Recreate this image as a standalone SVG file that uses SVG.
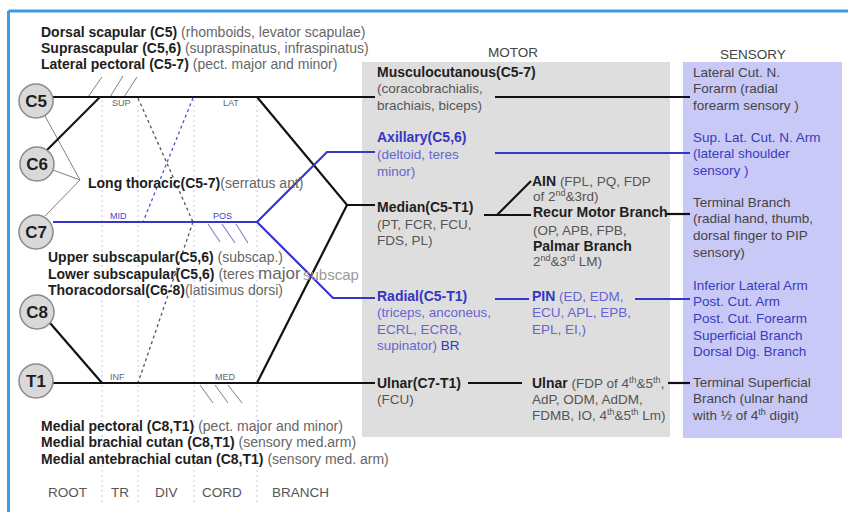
<svg xmlns="http://www.w3.org/2000/svg" width="848" height="512" viewBox="0 0 848 512">
<style>
text{font-family:"Liberation Sans",Arial,sans-serif;font-size:13.5px;fill:#555}
.L{font-size:14px}
.b{font-weight:bold;fill:#1e1e1e;font-size:14px}
.g{fill:#666}
.bb{font-weight:bold;fill:#3535c4;font-size:14px}
.lb{fill:#6565d2}
.sb{fill:#3a3ac0}
.sk{fill:#444}
.hd{fill:#444}
.sm{font-size:9px;fill:#666}
.smb{font-size:9px;fill:#4545c8}
.sup{font-size:9px;baseline-shift:super}
.root circle{fill:#d9d9d9;stroke:#8a8a8a;stroke-width:1.5}
.root text{font-weight:bold;font-size:17px;fill:#1e1e1e;text-anchor:middle}
.bk{stroke:#111;stroke-width:2.2;fill:none}
.bl{stroke:#3636c8;stroke-width:2.2;fill:none}
.thin{stroke:#808080;stroke-width:1;fill:none}
.tb{stroke:#8080d0;stroke-width:1.1;fill:none}
.dot{stroke:#c6c6ee;stroke-width:1;stroke-dasharray:2 3;fill:none}
.dg{stroke:#555;stroke-width:1.3;stroke-dasharray:3 3;fill:none}
.db{stroke:#5050d0;stroke-width:1.3;stroke-dasharray:3 3;fill:none}
</style>
<rect x="0" y="0" width="848" height="512" fill="#fff"/>
<g id="frame" fill="none" stroke="#3d9be0" stroke-width="3">
<line x1="8.5" y1="11" x2="848" y2="11"/>
<line x1="8.5" y1="11" x2="8.5" y2="512"/>
</g>
<g id="panels">
<rect id="motor-panel" x="362" y="62" width="308" height="375" fill="#dedede"/>
<rect id="sensory-panel" x="683" y="62" width="159" height="376" fill="#c9c9f7"/>
<text class="hd" x="488" y="57">MOTOR</text>
<text class="hd" x="720" y="59">SENSORY</text>
</g>
<g id="columns">
<line class="dot" x1="102" y1="100" x2="102" y2="505"/>
<line class="dot" x1="138" y1="100" x2="138" y2="505"/>
<line class="dot" x1="194" y1="100" x2="194" y2="505"/>
<line class="dot" x1="257" y1="100" x2="257" y2="505"/>
<text x="48" y="497">ROOT</text>
<text x="111" y="497">TR</text>
<text x="155" y="497">DIV</text>
<text x="202" y="497">CORD</text>
<text x="272" y="497">BRANCH</text>
</g>
<g id="connectors">
<line class="thin" x1="88" y1="97" x2="102" y2="77"/>
<line class="thin" x1="110" y1="97" x2="123" y2="76"/>
<line class="thin" x1="124" y1="97" x2="137" y2="77"/>
<line class="thin" x1="45" y1="116" x2="80" y2="180"/>
<line class="thin" x1="53" y1="170" x2="80" y2="180"/>
<line class="thin" x1="45" y1="216" x2="80" y2="180"/>
<line class="tb" x1="208" y1="224" x2="220" y2="242"/>
<line class="tb" x1="222" y1="224" x2="235" y2="243"/>
<line class="tb" x1="236" y1="224" x2="248" y2="243"/>
<line class="thin" x1="200" y1="385" x2="213" y2="403"/>
<line class="thin" x1="215" y1="385" x2="228" y2="403"/>
<line class="thin" x1="228" y1="385" x2="242" y2="403"/>
<line class="dg" x1="138" y1="98" x2="193" y2="222"/>
<line class="dg" x1="193" y1="222" x2="138" y2="383"/>
<line class="db" x1="193" y1="98" x2="143" y2="222"/>
<line class="bk" x1="52" y1="97" x2="375" y2="97"/>
<line class="bk" x1="47" y1="150" x2="100" y2="97"/>
<line class="bl" x1="53" y1="222" x2="257" y2="222"/>
<line class="bk" x1="50" y1="323" x2="102" y2="383"/>
<line class="bk" x1="53" y1="383" x2="375" y2="383"/>
<polyline class="bk" points="257,97 347,205 375,205"/>
<line class="bk" x1="257" y1="383" x2="347" y2="205"/>
<polyline class="bl" points="257,222 327,152 375,152"/>
<polyline class="bl" points="257,222 333,298 375,298"/>
<line class="bk" x1="495" y1="97" x2="690" y2="97"/>
<line class="bl" x1="495" y1="153" x2="690" y2="153"/>
<line class="bk" x1="484" y1="215" x2="531" y2="215"/>
<line class="bk" x1="497" y1="215" x2="531" y2="181"/>
<line class="bk" x1="666" y1="214" x2="690" y2="214"/>
<line class="bl" x1="495" y1="299" x2="529" y2="299"/>
<line class="bl" x1="635" y1="299" x2="690" y2="299"/>
<line class="bk" x1="468" y1="383" x2="522" y2="383"/>
<line class="bk" x1="668" y1="383" x2="690" y2="383"/>
</g>
<g id="trunk-labels">
<text class="sm" x="112" y="106">SUP</text>
<text class="sm" x="223" y="106">LAT</text>
<text class="smb" x="110" y="219">MID</text>
<text class="smb" x="213" y="219">POS</text>
<text class="sm" x="110" y="380">INF</text>
<text class="sm" x="215" y="380">MED</text>
</g>
<g id="root-C5" class="root"><circle cx="36" cy="101" r="17"/><text x="36" y="107">C5</text></g>
<g id="root-C6" class="root"><circle cx="37" cy="164" r="17"/><text x="37" y="170">C6</text></g>
<g id="root-C7" class="root"><circle cx="36" cy="232" r="17"/><text x="36" y="238">C7</text></g>
<g id="root-C8" class="root"><circle cx="37" cy="312" r="17"/><text x="37" y="318">C8</text></g>
<g id="root-T1" class="root"><circle cx="36" cy="381" r="17"/><text x="36" y="387">T1</text></g>
<g id="collaterals-upper">
<text class="L" x="41" y="37"><tspan class="b">Dorsal scapular (C5)</tspan> <tspan class="g">(rhomboids, levator scapulae)</tspan></text>
<text class="L" x="41" y="53"><tspan class="b">Suprascapular (C5,6)</tspan> <tspan class="g">(supraspinatus, infraspinatus)</tspan></text>
<text class="L" x="41" y="69"><tspan class="b">Lateral pectoral (C5-7)</tspan> <tspan class="g">(pect. major and minor)</tspan></text>
</g>
<g id="long-thoracic">
<text class="L" x="88" y="188"><tspan class="b">Long thoracic(C5-7)</tspan><tspan class="g">(serratus ant)</tspan></text>
</g>
<g id="collaterals-posterior">
<text class="L" x="48" y="262"><tspan class="b">Upper subscapular(C5,6)</tspan> <tspan class="g">(subscap.)</tspan></text>
<text class="L" x="48" y="279"><tspan class="b">Lower subscapular(C5,6)</tspan> <tspan class="g">(teres </tspan><tspan class="g" style="font-size:17px">major</tspan></text>
<text x="303" y="280" style="font-size:15px;fill:#9a9a9a">subscap</text>
<text class="L" x="48" y="295"><tspan class="b">Thoracodorsal(C6-8)</tspan><tspan class="g">(latisimus dorsi)</tspan></text>
</g>
<g id="collaterals-medial">
<text class="L" x="41" y="431"><tspan class="b">Medial pectoral (C8,T1)</tspan> <tspan class="g">(pect. major and minor)</tspan></text>
<text class="L" x="41" y="447"><tspan class="b">Medial brachial cutan (C8,T1)</tspan> <tspan class="g">(sensory med.arm)</tspan></text>
<text class="L" x="41" y="464"><tspan class="b">Medial antebrachial cutan (C8,T1)</tspan> <tspan class="g">(sensory med. arm)</tspan></text>
</g>
<g id="musculocutaneous">
<text class="b" x="377" y="77">Musculocutanous(C5-7)</text>
<text x="377" y="93">(coracobrachialis,</text>
<text x="377" y="110">brachiais, biceps)</text>
</g>
<g id="axillary">
<text class="bb" x="377" y="142">Axillary(C5,6)</text>
<text class="lb" x="377" y="159">(deltoid, teres</text>
<text class="lb" x="377" y="176">minor)</text>
</g>
<g id="median">
<text class="b" x="377" y="212">Median(C5-T1)</text>
<text x="377" y="229">(PT, FCR, FCU,</text>
<text x="377" y="245">FDS, PL)</text>
</g>
<g id="radial">
<text class="bb" x="377" y="301">Radial(C5-T1)</text>
<text class="lb" x="377" y="317">(triceps, anconeus,</text>
<text class="lb" x="377" y="334">ECRL, ECRB,</text>
<text x="377" y="350"><tspan class="lb">supinator)</tspan><tspan style="fill:#3535c4"> BR</tspan></text>
</g>
<g id="ulnar">
<text class="b" x="377" y="388">Ulnar(C7-T1)</text>
<text x="377" y="404">(FCU)</text>
</g>
<g id="ain">
<text x="532" y="186"><tspan class="b">AIN</tspan> (FPL, PQ, FDP</text>
<text x="533" y="201">of 2<tspan class="sup">nd</tspan>&amp;3rd)</text>
</g>
<g id="recur-motor">
<text class="b" x="533" y="217">Recur Motor Branch</text>
<text x="533" y="235">(OP, APB, FPB,</text>
<text class="b" x="533" y="251">Palmar Branch</text>
<text x="533" y="266">2<tspan class="sup">nd</tspan>&amp;3<tspan class="sup">rd</tspan> LM)</text>
</g>
<g id="pin">
<text class="lb" x="532" y="301"><tspan class="bb">PIN</tspan> (ED, EDM,</text>
<text class="lb" x="532" y="317">ECU, APL, EPB,</text>
<text class="lb" x="532" y="334">EPL, EI,)</text>
</g>
<g id="ulnar-distal">
<text x="532" y="388"><tspan class="b">Ulnar</tspan> (FDP of 4<tspan class="sup">th</tspan>&amp;5<tspan class="sup">th</tspan>,</text>
<text x="532" y="404">AdP, ODM, AdDM,</text>
<text x="532" y="420">FDMB, IO, 4<tspan class="sup">th</tspan>&amp;5<tspan class="sup">th</tspan> Lm)</text>
</g>
<g id="lat-cut-forearm">
<text class="sk" x="693" y="77">Lateral Cut. N.</text>
<text class="sk" x="693" y="93">Forarm (radial</text>
<text class="sk" x="693" y="110">forearm sensory )</text>
</g>
<g id="sup-lat-cut-arm">
<text class="sb" x="693" y="142">Sup. Lat. Cut. N. Arm</text>
<text class="sb" x="693" y="158">(lateral shoulder</text>
<text class="sb" x="693" y="175">sensory )</text>
</g>
<g id="terminal-branch">
<text class="sk" x="693" y="207">Terminal Branch</text>
<text class="sk" x="693" y="223">(radial hand, thumb,</text>
<text class="sk" x="693" y="240">dorsal finger to PIP</text>
<text class="sk" x="693" y="257">sensory)</text>
</g>
<g id="radial-sensory">
<text class="sb" x="693" y="290">Inferior Lateral Arm</text>
<text class="sb" x="693" y="306">Post. Cut. Arm</text>
<text class="sb" x="693" y="323">Post. Cut. Forearm</text>
<text class="sb" x="693" y="340">Superficial Branch</text>
<text class="sb" x="693" y="356">Dorsal Dig. Branch</text>
</g>
<g id="terminal-superficial">
<text class="sk" x="693" y="387">Terminal Superficial</text>
<text class="sk" x="693" y="403">Branch (ulnar hand</text>
<text class="sk" x="693" y="420">with ½ of 4<tspan class="sup">th</tspan> digit)</text>
</g>
</svg>
